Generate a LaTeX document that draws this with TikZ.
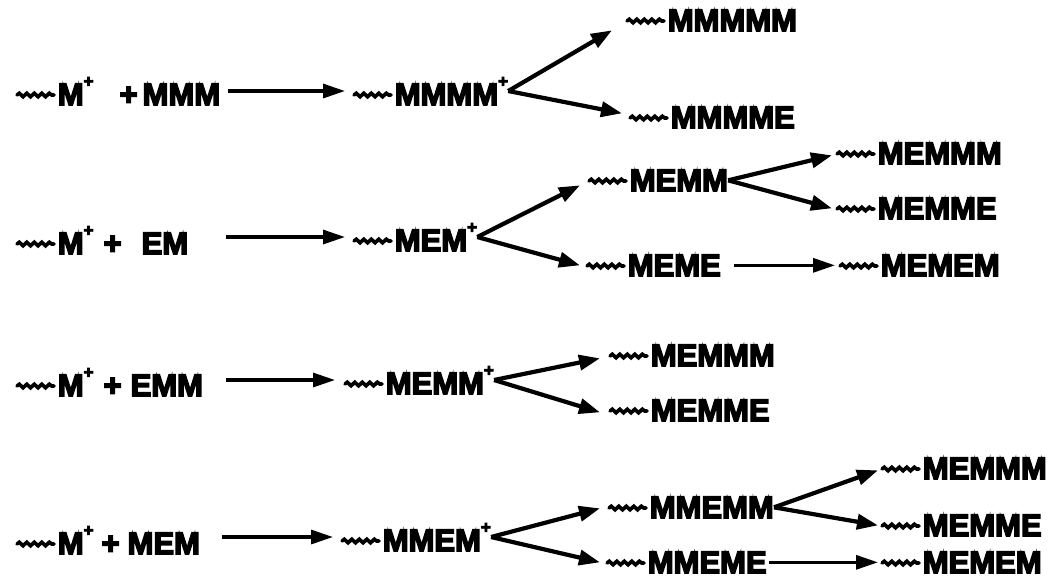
\documentclass[tikz,border=0pt]{standalone}
\usepackage{fontspec}
\usetikzlibrary{arrows.meta,decorations.pathmorphing}
\newfontfamily\heavyfont{Liberation Sans}[UprightFont={* Bold},FakeBold=5]

\tikzset{
  wavestroke/.style={line width=3.6pt, line cap=round, decorate,
    decoration={snake, amplitude=1.8pt, segment length=7.5pt}},
  species/.style={anchor=base west, inner sep=0pt, font=\heavyfont\fontsize{31}{34}\selectfont},
  react/.style={line width=3.2pt, -{Triangle[length=22pt,width=14pt]}},
  branch/.style={line width=4.2pt, -{Triangle[length=21pt,width=15pt]}},
}
% short wavy polymer chain in front of each species
\newcommand\wavy{\tikz[baseline=0pt]\draw[wavestroke] (0pt,10pt) -- (37pt,10pt);\hspace{2pt}}
% cationic chain end
\newcommand\cat{\raisebox{18pt}{\fontsize{17}{17}\selectfont +}}

\begin{document}
\begin{tikzpicture}[x=1pt,y=-1pt]
\useasboundingbox (0,0) rectangle (1053,578);

% row 1
\node[species] (l1) at (15,105) {\wavy M\cat\hspace{26pt}+\hspace{5pt}MMM};
\node[species] (m1) at (352,105) {\wavy MMMM\cat};
\node[species] (a1) at (625,31) {\wavy MMMMM};
\node[species] (b1) at (628,128) {\wavy MMMME};
\draw[react] (m1.west -| l1.east) ++(8,0) -- ([xshift=-7pt]m1.west);
\draw[branch] (m1.east) -- ([shift={(-13,10)}]a1.west);
\draw[branch] (m1.east) -- ([shift={(-6,-4)}]b1.west);

% row 2
\node[species] (l2) at (15,254) {\wavy M\cat\hspace{10pt}+\hspace{20pt}EM};
\node[species] (m2) at (352,251) {\wavy MEM\cat};
\node[species] (a2) at (587,191) {\wavy MEMM};
\node[species] (b2) at (585,276) {\wavy MEME};
\node[species] (c2) at (835,164) {\wavy MEMMM};
\node[species] (d2) at (835,219) {\wavy MEMME};
\node[species] (e2) at (838,276) {\wavy MEMEM};
\draw[react] (m2.west -| l2.east) ++(38,0) -- ([xshift=-7pt]m2.west);
\draw[branch] (m2.east) -- ([shift={(-7,5)}]a2.west);
\draw[branch] (m2.east) -- ([shift={(-5,0)}]b2.west);
\draw[branch] (a2.east) -- ([shift={(-3,2)}]c2.west);
\draw[branch] (a2.east) -- ([shift={(-3,0)}]d2.west);
\draw[react] ([xshift=13pt]b2.east) -- ([xshift=-3pt]e2.west);

% row 3
\node[species] (l3) at (15,396) {\wavy M\cat\hspace{10pt}+\hspace{9pt}EMM};
\node[species] (m3) at (343,394) {\wavy MEMM\cat};
\node[species] (a3) at (608,366) {\wavy MEMMM};
\node[species] (b3) at (608,421) {\wavy MEMME};
\draw[react] (m3.west -| l3.east) ++(23,0) -- ([xshift=-8pt]m3.west);
\draw[branch] (m3.east) -- ([shift={(-8,3)}]a3.west);
\draw[branch] (m3.east) -- ([shift={(-8,2)}]b3.west);

% row 4
\node[species] (l4) at (15,554) {\wavy M\cat\hspace{8pt}+\hspace{8pt}MEM};
\node[species] (m4) at (340,551) {\wavy MMEM\cat};
\node[species] (a4) at (607,518) {\wavy MMEMM};
\node[species] (b4) at (605,573) {\wavy MMEME};
\node[species] (c4) at (880,479) {\wavy MEMMM};
\node[species] (d4) at (880,536) {\wavy MEMME};
\node[species] (e4) at (880,573) {\wavy MEMEM};
\draw[react] (m4.west -| l4.east) ++(22,0) -- ([xshift=-7pt]m4.west);
\draw[branch] (m4.east) -- ([shift={(-7,1)}]a4.west);
\draw[branch] (m4.east) -- ([shift={(-5,0)}]b4.west);
\draw[branch] (a4.east) -- ([shift={(-2,2)}]c4.west);
\draw[branch] (a4.east) -- ([shift={(-2,0)}]d4.west);
\draw[react] ([xshift=2pt]b4.east) -- ([xshift=-2pt]e4.west);
\end{tikzpicture}
\end{document}
